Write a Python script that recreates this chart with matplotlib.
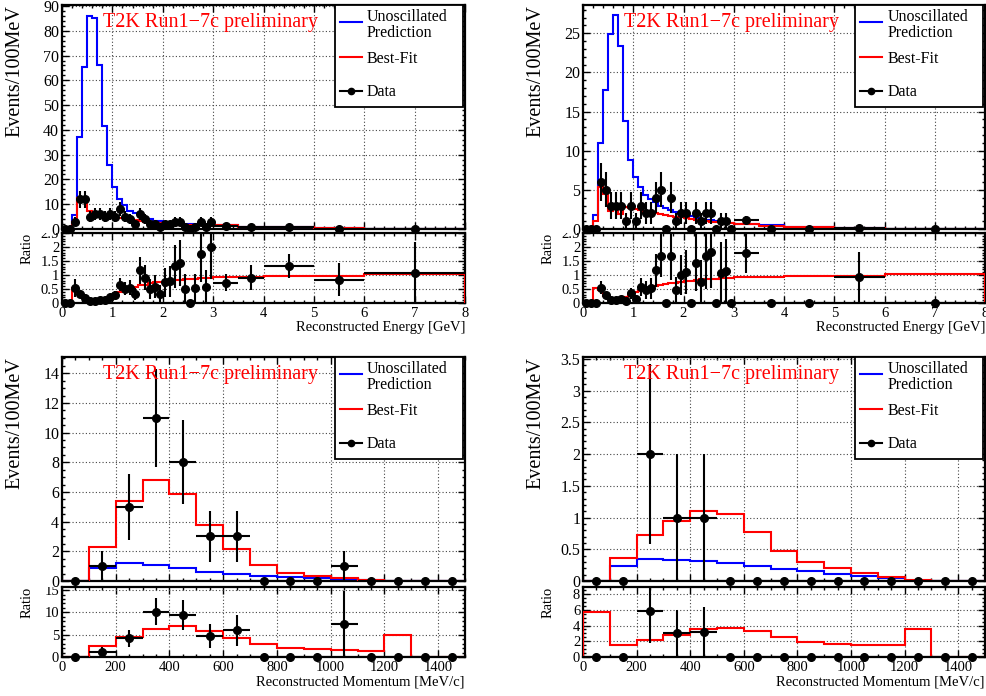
import numpy as np
import matplotlib
matplotlib.use('Agg')
import matplotlib.pyplot as plt
from matplotlib.ticker import MultipleLocator, FuncFormatter
from matplotlib.patches import Rectangle
from matplotlib.lines import Line2D
from matplotlib.transforms import Bbox, TransformedBbox

plt.rcParams['font.family'] = ['Liberation Serif', 'DejaVu Serif']

# ---------------- data ----------------
energy_edges = [0.0, 0.1, 0.2, 0.3, 0.4, 0.5, 0.6, 0.7, 0.8, 0.9, 1.0, 1.1, 1.2, 1.3, 1.4,
                1.5, 1.6, 1.7, 1.8, 1.9, 2.0, 2.1, 2.2, 2.3, 2.4, 2.5, 2.6, 2.7, 2.8, 2.9,
                3.0, 3.5, 4.0, 5.0, 6.0, 8.0]
momentum_edges = [0, 100, 200, 300, 400, 500, 600, 700, 800, 900, 1000, 1100, 1200, 1300, 1400, 1500]

# top-left : energy sample 1
unosc_e1 = [0, 0, 5.5, 37, 65.5, 86, 85, 66, 41.5, 26, 17, 12.2, 9.7, 7.4, 6.5, 5.1, 4.4, 4.0,
            3.4, 3.1, 2.7, 2.6, 2.3, 2.1, 1.95, 1.85, 1.9, 1.7, 1.7, 1.5, 1.64, 0.89, 0.68, 0.24, 0.046]
best_e1 = [0, 0, 3.0, 12.6, 12.4, 7.3, 6.4, 6.3, 5.8, 5.7, 5.1, 4.6, 4.4, 3.85, 3.7, 3.2, 2.9, 2.8,
           2.5, 2.35, 2.1, 2.1, 1.9, 1.75, 1.65, 1.6, 1.65, 1.5, 1.5, 1.35, 1.5, 0.84, 0.65, 0.235, 0.048]
counts_e1 = [0, 0, 3, 12, 12, 5, 6, 6, 5, 6, 5, 8, 5, 4, 2, 6, 4, 2, 2, 1, 2, 2, 3, 3, 1, 0, 1, 3, 1, 3,
             6, 4, 9, 2, 1]

# top-right : energy sample 2
unosc_e2 = [0, 0, 1.85, 11, 17.8, 24.9, 27.3, 23.4, 13.8, 8.8, 6.6, 5.4, 4.4, 3.8, 3.4, 2.95, 2.65, 2.4,
            2.15, 2.0, 1.79, 1.6, 1.39, 1.31, 1.18, 1.1, 1.0, 0.92, 0.87, 0.82, 0.67, 0.45, 0.3, 0.109, 0.03]
best_e2 = [0, 0, 1.0, 5.3, 4.45, 2.25, 2.75, 1.9, 2.75, 2.65, 2.5, 2.4, 2.2, 2.1, 2.05, 1.9, 1.78, 1.68,
           1.57, 1.52, 1.4, 1.28, 1.14, 1.1, 1.0, 0.95, 0.87, 0.81, 0.77, 0.74, 0.62, 0.42, 0.29, 0.106, 0.031]
counts_e2 = [0, 0, 0, 6, 5, 3, 3, 3, 1, 3, 1, 3, 2, 2, 4, 5, 0, 4, 1, 2, 2, 0, 2, 1, 2, 2, 0, 1, 1, 0,
             6, 0, 0, 1, 0]

# bottom-left : momentum sample 1
unosc_p1 = [0, 0.91, 1.19, 1.08, 0.85, 0.64, 0.5, 0.35, 0.28, 0.19, 0.135, 0.065, 0.006, 0, 0]
best_p1 = [0, 2.3, 5.4, 6.8, 5.85, 3.8, 2.15, 1.05, 0.56, 0.33, 0.2, 0.09, 0.03, 0, 0]
counts_p1 = [0, 1, 5, 11, 8, 3, 3, 0, 0, 0, 1, 0, 0, 0, 0]

# bottom-right : momentum sample 2
unosc_p2 = [0.001, 0.236, 0.34, 0.333, 0.314, 0.28, 0.233, 0.184, 0.154, 0.118, 0.076, 0.04, 0.003, 0, 0]
best_p2 = [0.0057, 0.37, 0.72, 0.95, 1.1, 1.05, 0.77, 0.47, 0.3, 0.2, 0.12, 0.06, 0.0105, 0, 0]
counts_p2 = [0, 0, 2, 1, 1, 0, 0, 0, 0, 0, 0, 0, 0, 0, 0]

legend_labels = ['Unoscillated', 'Prediction', 'Best-Fit', 'Data']
title_text = 'T2K Run1\u22127c preliminary'
ylabel_text = 'Events/100MeV'
ratio_label = 'Ratio'
xlabel_energy = 'Reconstructed Energy [GeV]'
xlabel_momentum = 'Reconstructed Momentum [MeV/c]'

# ---------------- layout ----------------
W, H = 986, 696
fig = plt.figure(figsize=(W / 100, H / 100), dpi=100)


def fx(px):
    return px / W


def fy(py):
    return 1 - py / H


cols = [(62, 465), (583, 985)]
rows = [dict(mtop=5, mbot=229, rtop=233, rbot=303),
        dict(mtop=357, mbot=581, rtop=587, rbot=657)]

panels = [
    dict(edges=energy_edges, unosc=unosc_e1, best=best_e1, counts=counts_e1, unit=0.1,
         xlim=(0, 8), ymax=90.4, rymax=2.5, ymaj=10, ymin=2, rymaj=0.5, rymin=0.1,
         xmaj=1, xmin=0.2, xlabel=xlabel_energy, col=0, row=0),
    dict(edges=energy_edges, unosc=unosc_e2, best=best_e2, counts=counts_e2, unit=0.1,
         xlim=(0, 8), ymax=28.6, rymax=2.5, ymaj=5, ymin=1, rymaj=0.5, rymin=0.1,
         xmaj=1, xmin=0.2, xlabel=xlabel_energy, col=1, row=0),
    dict(edges=momentum_edges, unosc=unosc_p1, best=best_p1, counts=counts_p1, unit=100,
         xlim=(0, 1500), ymax=15.1, rymax=15.7, ymaj=2, ymin=0.5, rymaj=5, rymin=1,
         xmaj=200, xmin=50, xlabel=xlabel_momentum, col=0, row=1),
    dict(edges=momentum_edges, unosc=unosc_p2, best=best_p2, counts=counts_p2, unit=100,
         xlim=(0, 1500), ymax=3.53, rymax=8.9, ymaj=0.5, ymin=0.1, rymaj=2, rymin=0.5,
         xmaj=200, xmin=50, xlabel=xlabel_momentum, col=1, row=1),
]

BLUE = '#0000ff'
RED = '#ff0000'
GRID = dict(color='#444444', linestyle=(0, (1, 2)), linewidth=0.8)
gfmt = FuncFormatter(lambda v, pos: '%g' % round(v, 6))


def style_axes(ax, xmaj, xmin, ymaj, ymin, labelsize):
    ax.xaxis.set_major_locator(MultipleLocator(xmaj))
    ax.xaxis.set_minor_locator(MultipleLocator(xmin))
    ax.yaxis.set_major_locator(MultipleLocator(ymaj))
    ax.yaxis.set_minor_locator(MultipleLocator(ymin))
    ax.xaxis.set_major_formatter(gfmt)
    ax.yaxis.set_major_formatter(gfmt)
    ax.tick_params(which='both', direction='in', top=True, right=True, width=1.0, labelsize=labelsize)
    ax.tick_params(which='major', length=5.0)
    ax.tick_params(which='minor', length=2.5)
    ax.grid(True, which='major', **GRID)
    ax.set_axisbelow(True)
    for s in ax.spines.values():
        s.set_linewidth(1.6)


ratio_axes = []
for p in panels:
    left, right = cols[p['col']]
    r = rows[p['row']]
    edges = np.array(p['edges'], dtype=float)
    unosc = np.array(p['unosc'], dtype=float)
    best = np.array(p['best'], dtype=float)
    counts = np.array(p['counts'], dtype=float)
    widths = np.diff(edges) / p['unit']
    centers = 0.5 * (edges[:-1] + edges[1:])
    halfw = 0.5 * np.diff(edges)
    data = counts / widths
    derr = np.sqrt(counts) / widths
    safe = np.where(unosc > 0, unosc, 1.0)
    ratio_best = np.where(unosc > 0, best / safe, 0.0)
    ratio_data = np.where(unosc > 0, data / safe, 0.0)
    ratio_err = np.where(unosc > 0, derr / safe, 0.0)

    # main panel
    ax = fig.add_axes([fx(left), fy(r['mbot']), fx(right - left), (r['mbot'] - r['mtop']) / H])
    ax.set_zorder(2)
    ax.stairs(unosc, edges, color=BLUE, linewidth=1.5, zorder=3)
    ax.stairs(best, edges, color=RED, linewidth=1.5, zorder=4)
    ax.errorbar(centers, data, yerr=derr, xerr=halfw, fmt='none', ecolor='black',
                elinewidth=1.5, capsize=0, zorder=5)
    ax.plot(centers, data, 'o', color='black', ms=5.5, zorder=6, clip_on=False)
    ax.set_xlim(*p['xlim'])
    ax.set_ylim(0, p['ymax'])
    style_axes(ax, p['xmaj'], p['xmin'], p['ymaj'], p['ymin'], 11.5)
    ax.tick_params(axis='x', labelbottom=False)
    ax.tick_params(axis='y', pad=2)

    ax.text(41 / 403, 1 - 17 / 224, title_text, transform=ax.transAxes, color=RED,
            fontsize=14.5, ha='left', va='center', zorder=10)

    # legend box
    lx0, lx1, ly0 = 273 / 403, 401 / 403, 1 - 102 / 224
    ax.add_patch(Rectangle((lx0, ly0), lx1 - lx0, 1 - ly0, transform=ax.transAxes,
                           facecolor='white', edgecolor='black', linewidth=1.3, zorder=20,
                           clip_on=False))
    sx0, sx1, tx = 278 / 403, 300 / 403, 305 / 403
    ax.add_line(Line2D([sx0, sx1], [1 - 17 / 224] * 2, transform=ax.transAxes, color=BLUE,
                       linewidth=1.5, zorder=21))
    ax.add_line(Line2D([sx0, sx1], [1 - 52 / 224] * 2, transform=ax.transAxes, color=RED,
                       linewidth=1.5, zorder=21))
    ax.add_line(Line2D([sx0, sx1], [1 - 86 / 224] * 2, transform=ax.transAxes, color='black',
                       linewidth=1.5, zorder=21))
    ax.add_line(Line2D([(sx0 + sx1) / 2], [1 - 86 / 224], transform=ax.transAxes, color='black',
                       marker='o', ms=4.5, zorder=22))
    for txt, yy in zip(legend_labels, [12, 28, 54, 87]):
        ax.text(tx, 1 - yy / 224, txt, transform=ax.transAxes, fontsize=11.5,
                ha='left', va='center', zorder=23)

    fig.text(fx(left - 47), fy(r['mtop']), ylabel_text, rotation=90, ha='center', va='top',
             fontsize=14.5)

    # ratio panel
    rax = fig.add_axes([fx(left), fy(r['rbot']), fx(right - left), (r['rbot'] - r['rtop']) / H])
    rax.set_zorder(1)
    rax.stairs(ratio_best, edges, color=RED, linewidth=1.5, zorder=4)
    rax.errorbar(centers, ratio_data, yerr=ratio_err, xerr=halfw, fmt='none', ecolor='black',
                 elinewidth=1.5, capsize=0, zorder=5)
    rax.plot(centers, ratio_data, 'o', color='black', ms=5.5, zorder=6, clip_on=False)
    rax.set_xlim(*p['xlim'])
    rax.set_ylim(0, p['rymax'])
    style_axes(rax, p['xmaj'], p['xmin'], p['rymaj'], p['rymin'], 10.5)
    rax.tick_params(axis='y', pad=2)
    rax.tick_params(axis='x', pad=3)
    fig.text(fx(left - 35), fy(r['rtop']), ratio_label, rotation=90, ha='center', va='top',
             fontsize=10.5)
    fig.text(fx(right), fy(r['rbot'] + 25), p['xlabel'], ha='right', va='center', fontsize=10.5)
    ratio_axes.append((rax, r['rtop']))

fig.canvas.draw()
for rax, rtop in ratio_axes:
    clip = TransformedBbox(Bbox.from_extents(0, 0, 1, fy(rtop)), fig.transFigure)
    for t in rax.yaxis.get_major_ticks():
        t.label1.set_clip_box(clip)
        t.label1.set_clip_on(True)

fig.savefig('out.png', dpi=100)
